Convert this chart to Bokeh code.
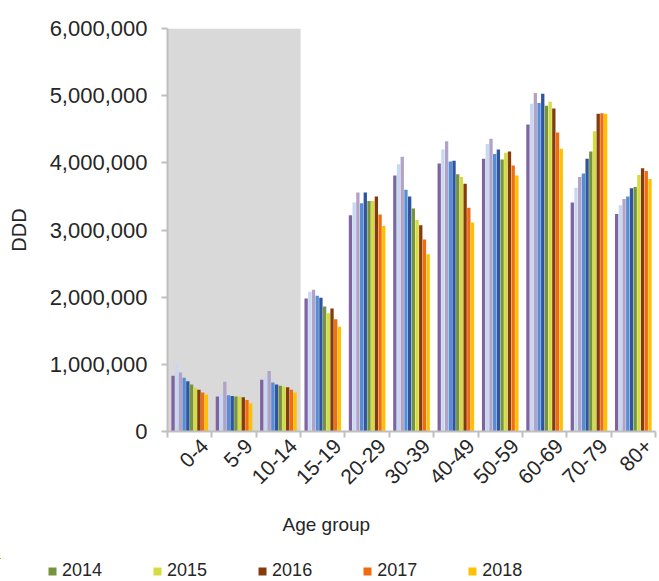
from bokeh.plotting import figure
from bokeh.layouts import column, row
from bokeh.models import (ColumnDataSource, FixedTicker, NumeralTickFormatter, BoxAnnotation,
                          Legend, LegendItem, Title, Range1d)
from bokeh.transform import dodge
from bokeh.embed import file_html
from bokeh.resources import INLINE
from math import pi

age_groups = ["0-4", "5-9", "10-14", "15-19", "20-29", "30-39", "40-49",
              "50-59", "60-69", "70-79", "80+"]
years = ["2009", "2010", "2011", "2012", "2013", "2014", "2015", "2016", "2017", "2018"]
legend_years = ["2014", "2015", "2016", "2017", "2018"]
colors = ["#8064A2", "#C6D9F1", "#B3A2C7", "#558ED5", "#2F55A0",
          "#77933C", "#D4DC41", "#843C0C", "#F06C0E", "#FFC000"]

v2009 = [830000, 520000, 770000, 1980000, 3220000, 3810000, 3990000, 4060000, 4570000, 3410000, 3240000]
v2010 = [1020000, 560000, 820000, 2080000, 3410000, 3980000, 4200000, 4280000, 4880000, 3630000, 3370000]
v2011 = [880000, 740000, 900000, 2110000, 3560000, 4090000, 4320000, 4360000, 5040000, 3790000, 3460000]
v2012 = [800000, 540000, 730000, 2020000, 3400000, 3600000, 4020000, 4130000, 4890000, 3840000, 3500000]
v2013 = [750000, 530000, 700000, 1990000, 3560000, 3500000, 4030000, 4200000, 5030000, 4060000, 3620000]
v2014 = [700000, 520000, 680000, 1860000, 3430000, 3320000, 3830000, 4050000, 4850000, 4170000, 3640000]
v2015 = [650000, 520000, 670000, 1760000, 3430000, 3150000, 3790000, 4150000, 4910000, 4470000, 3820000]
v2016 = [620000, 510000, 660000, 1830000, 3500000, 3070000, 3690000, 4170000, 4810000, 4730000, 3920000]
v2017 = [580000, 470000, 620000, 1670000, 3230000, 2860000, 3330000, 3960000, 4450000, 4740000, 3880000]
v2018 = [550000, 420000, 580000, 1560000, 3060000, 2640000, 3110000, 3810000, 4210000, 4730000, 3760000]
series = [v2009, v2010, v2011, v2012, v2013, v2014, v2015, v2016, v2017, v2018]

data = {"x": [i + 0.5 for i in range(len(age_groups))]}
for y, vals in zip(years, series):
    data[y] = vals
source = ColumnDataSource(data)

TEXT = "#262626"
AXIS = "#BFBFBF"
FONT = "Liberation Sans"

p = figure(width=658, height=558, output_backend="svg", toolbar_location=None,
           x_range=Range1d(0, len(age_groups)), y_range=Range1d(0, 6000000),
           min_border_left=167, min_border_right=3, min_border_top=28, min_border_bottom=127)
p.outline_line_color = None
p.xgrid.visible = False
p.ygrid.visible = False
p.background_fill_color = "white"
p.border_fill_color = "white"

shade = BoxAnnotation(left=0, right=3, fill_color="#D9D9D9", fill_alpha=1.0,
                      line_color=None, level="underlay")
p.add_layout(shade)

step = 0.0834
for j, (y, c) in enumerate(zip(years, colors)):
    p.vbar(x=dodge("x", (j - 4.5) * step), top=y, width=0.075, source=source,
           fill_color=c, line_color=None)

# axes
p.yaxis.ticker = FixedTicker(ticks=[0, 1000000, 2000000, 3000000, 4000000, 5000000, 6000000])
p.yaxis.formatter = NumeralTickFormatter(format="0,0")
p.yaxis.axis_label = "DDD"
p.yaxis.axis_label_text_font = FONT
p.yaxis.axis_label_text_font_style = "normal"
p.yaxis.axis_label_text_font_size = "20px"
p.yaxis.axis_label_text_color = TEXT
p.yaxis.axis_label_standoff = 17
p.yaxis.major_label_text_font = FONT
p.yaxis.major_label_text_font_size = "22px"
p.yaxis.major_label_text_color = TEXT
p.yaxis.major_label_standoff = 14
p.yaxis.axis_line_color = AXIS
p.yaxis.axis_line_width = 2
p.yaxis.major_tick_line_color = AXIS
p.yaxis.major_tick_line_width = 2
p.yaxis.major_tick_out = 6
p.yaxis.major_tick_in = 0
p.yaxis.minor_tick_line_color = None

label_pos = [i + 0.84 for i in range(len(age_groups))]
p.xaxis.ticker = FixedTicker(ticks=label_pos, minor_ticks=list(range(len(age_groups) + 1)))
p.xaxis.major_label_overrides = {c: g for c, g in zip(label_pos, age_groups)}
p.xaxis.major_label_orientation = pi / 4
p.xaxis.major_label_text_font = FONT
p.xaxis.major_label_text_font_size = "21px"
p.xaxis.major_label_text_color = TEXT
p.xaxis.major_label_standoff = 5
p.xaxis.major_tick_line_color = None
p.xaxis.minor_tick_line_color = AXIS
p.xaxis.minor_tick_line_width = 2
p.xaxis.minor_tick_out = 6
p.xaxis.minor_tick_in = 0
p.xaxis.axis_line_color = AXIS
p.xaxis.axis_line_width = 2

xtitle = Title(text="Age group", align="left", offset=115, standoff=37,
               text_font=FONT, text_font_size="19px", text_font_style="normal",
               text_color=TEXT)
p.add_layout(xtitle, "below")

# legend strip below the chart (its bars lie outside its visible ranges)
p2 = figure(width=658, height=23, output_backend="svg", toolbar_location=None,
            x_range=Range1d(100, 101), y_range=Range1d(-20000000, -10000000),
            x_axis_type=None, y_axis_type=None,
            min_border_left=0, min_border_right=0, min_border_top=0, min_border_bottom=0)
p2.outline_line_color = None
p2.xgrid.visible = False
p2.ygrid.visible = False
leg_renderers = {}
for y, c in zip(years, colors):
    if y in legend_years:
        leg_renderers[y] = p2.vbar(x="x", top=y, width=0.074, source=source,
                                   fill_color=c, line_color=None)

legend = Legend(items=[LegendItem(label=y, renderers=[leg_renderers[y]]) for y in legend_years],
                orientation="horizontal", location=(47, 0),
                glyph_width=10, glyph_height=10, label_standoff=5, spacing=50,
                padding=0, margin=0, background_fill_alpha=0, border_line_color=None,
                label_text_font=FONT, label_text_font_size="18px", label_text_color=TEXT)
p2.add_layout(legend, "center")

layout = column(p, row(p2, spacing=0), spacing=0)
open("out.html", "w").write(file_html(layout, INLINE))
